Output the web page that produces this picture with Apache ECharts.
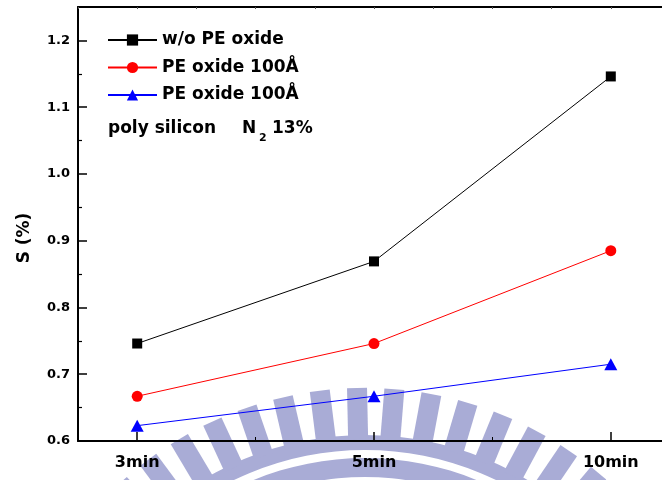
<!DOCTYPE html>
<html>
<head>
<meta charset="utf-8">
<script src="https://cdn.jsdelivr.net/npm/echarts@6/dist/echarts.min.js"></script>
<style>
  html, body { margin: 0; padding: 0; background: #ffffff; overflow: hidden; }
  #wrap { width: 662px; height: 480px; overflow: hidden; }
  /* the plot frame runs a few pixels past the right edge of the page */
  #chart { width: 670px; height: 480px; }
</style>
</head>
<body>
<div id="wrap"><div id="chart"></div></div>
<script>
// Anneal time categories and measured S (%) for each sample
const categories = ['3min', '5min', '10min'];
const seriesNames = ['w/o PE oxide', 'PE oxide 100Å', 'PE oxide 100Å B'];
const legendLabels = ['w/o PE oxide', 'PE oxide 100Å', 'PE oxide 100Å'];
const woPeOxide = [0.746, 0.869, 1.146];
const peOxideRed = [0.667, 0.746, 0.885];
const peOxideBlue = [0.623, 0.667, 0.715];
const yTickValues = [0.6, 0.7, 0.8, 0.9, 1.0, 1.1, 1.2];
const yMinorTickValues = [0.65, 0.75, 0.85, 0.95, 1.05, 1.15];

// categories sit at x = 1, 2, 3 on a numeric axis running 0.75 .. 3.25
const catPos = categories.map((c, i) => i + 1);
const catMinor = [1.5, 2.5];
const toPoints = vals => vals.map((v, i) => [catPos[i], v]);

const FONT = 'DejaVu Sans';
const WM = '#a9acd6';

// Light gear-shaped emblem behind the plot
function emblem() {
  const cx = 365, cy = 751;
  const els = [
    { type: 'ring', z: -10, silent: true, shape: { cx, cy, r: 316, r0: 274 }, style: { fill: WM } },
    { type: 'ring', z: -9, silent: true, shape: { cx, cy, r: 301, r0: 293 }, style: { fill: '#ffffff' } }
  ];
  const rIn = 312, rOut = 363, half = 10, step = 0.103, base = -Math.PI / 2 - 0.022;
  for (let k = -10; k <= 10; k++) {
    const a = base + k * step;
    const dx = Math.cos(a), dy = Math.sin(a);
    const px = -dy * half, py = dx * half;
    els.push({
      type: 'polygon', z: -10, silent: true,
      shape: { points: [
        [cx + dx * rIn + px, cy + dy * rIn + py],
        [cx + dx * rOut + px, cy + dy * rOut + py],
        [cx + dx * rOut - px, cy + dy * rOut - py],
        [cx + dx * rIn - px, cy + dy * rIn - py]
      ] },
      style: { fill: WM }
    });
  }
  return els;
}

const txt = (text, x, y, size, extra) => Object.assign({
  type: 'text', x, y, silent: true,
  style: { text, fontFamily: FONT, fontWeight: 'bold', fontSize: size, fill: '#000',
           align: 'left', verticalAlign: 'middle' }
}, extra || {});

const chart = echarts.init(document.getElementById('chart'), null, { renderer: 'canvas' });

chart.setOption({
  animation: false,
  backgroundColor: '#ffffff',
  grid: { left: 78, top: 7, right: 0, bottom: 39, containLabel: false },
  legend: {
    orient: 'vertical', left: 107, top: 30, padding: 0,
    itemWidth: 49, itemHeight: 14, itemGap: 7.5, selectedMode: false,
    data: seriesNames,
    formatter: name => legendLabels[seriesNames.indexOf(name)],
    textStyle: { fontFamily: FONT, fontWeight: 'bold', fontSize: 17, color: '#000', lineHeight: 20 }
  },
  xAxis: [
    {
      type: 'value', min: 0.75, max: 3.25, position: 'bottom',
      axisLine: { show: true, onZero: false, lineStyle: { color: '#000', width: 2 } },
      axisTick: { show: true, inside: true, length: 9, customValues: catPos, lineStyle: { color: '#000', width: 1.5 } },
      axisLabel: {
        show: true, customValues: catPos, margin: 14,
        formatter: v => categories[Math.round(v) - 1],
        fontFamily: FONT, fontWeight: 'bold', fontSize: 16, color: '#000'
      },
      splitLine: { show: false }
    },
    {
      type: 'value', min: 0.75, max: 3.25, position: 'bottom',
      axisLine: { show: false, onZero: false },
      axisTick: { show: true, inside: true, length: 4, customValues: catMinor, lineStyle: { color: '#000', width: 1 } },
      axisLabel: { show: false },
      splitLine: { show: false }
    },
    {
      type: 'value', min: 0.75, max: 3.25, interval: 0.25, position: 'top',
      axisLine: { show: true, onZero: false, lineStyle: { color: '#000', width: 2 } },
      axisTick: { show: true, inside: true, length: 2, lineStyle: { color: '#555', width: 1 } },
      axisLabel: { show: false },
      splitLine: { show: false }
    }
  ],
  yAxis: [
    {
      type: 'value', min: 0.6, max: 1.25, position: 'left',
      axisLine: { show: true, onZero: false, lineStyle: { color: '#000', width: 2 } },
      axisTick: { show: true, inside: true, length: 9, customValues: yTickValues, lineStyle: { color: '#000', width: 1.5 } },
      axisLabel: {
        show: true, customValues: yTickValues, margin: 8,
        formatter: v => v.toFixed(1),
        fontFamily: FONT, fontWeight: 'bold', fontSize: 13, color: '#000'
      },
      splitLine: { show: false }
    },
    {
      type: 'value', min: 0.6, max: 1.25, position: 'left',
      axisLine: { show: false, onZero: false },
      axisTick: { show: true, inside: true, length: 4, customValues: yMinorTickValues, lineStyle: { color: '#000', width: 1.2 } },
      axisLabel: { show: false },
      splitLine: { show: false }
    }
  ],
  series: [
    {
      name: seriesNames[0], type: 'line', data: toPoints(woPeOxide),
      symbol: 'rect', symbolSize: 10, showSymbol: true,
      lineStyle: { color: '#000000', width: 1 }, itemStyle: { color: '#000000' }, z: 5
    },
    {
      name: seriesNames[1], type: 'line', data: toPoints(peOxideRed),
      symbol: 'circle', symbolSize: 11, showSymbol: true,
      lineStyle: { color: '#ff0000', width: 1 }, itemStyle: { color: '#ff0000' }, z: 5
    },
    {
      name: seriesNames[2], type: 'line', data: toPoints(peOxideBlue),
      symbol: 'triangle', symbolSize: [13, 12], showSymbol: true,
      lineStyle: { color: '#0000ff', width: 1 }, itemStyle: { color: '#0000ff' }, z: 5
    }
  ],
  graphic: {
    elements: emblem().concat([
      txt('S (%)', 25, 238, 17, { rotation: Math.PI / 2, style: { text: 'S (%)', fontFamily: FONT, fontWeight: 'bold', fontSize: 17, fill: '#000', align: 'center', verticalAlign: 'middle' } }),
      txt('poly silicon', 108, 129, 17),
      txt('N', 242, 129, 17),
      txt('2', 259, 138, 11),
      txt('13%', 272, 129, 17)
    ])
  }
});
</script>
</body>
</html>
